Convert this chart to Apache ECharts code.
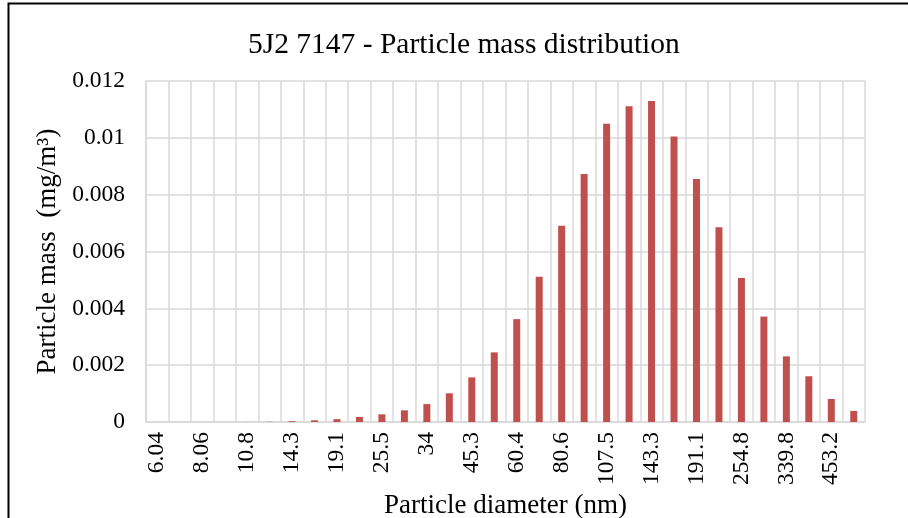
<!DOCTYPE html>
<html>
<head>
<meta charset="utf-8">
<title>Particle mass distribution</title>
<script src="https://cdn.jsdelivr.net/npm/echarts@6/dist/echarts.min.js"></script>
<style>
  html, body { margin: 0; padding: 0; background: #fff; }
  #chart { width: 908px; height: 518px; }
</style>
</head>
<body>
<div id="chart"></div>
<script>
// particle diameter bins (nm), only every other one is labelled
const diameters = ['6.04', '6.98', '8.06', '9.31', '10.8', '12.4', '14.3', '16.5',
  '19.1', '22.1', '25.5', '29.4', '34', '39.2', '45.3', '52.3',
  '60.4', '69.8', '80.6', '93.1', '107.5', '124.1', '143.3', '165.5',
  '191.1', '220.7', '254.8', '294.3', '339.8', '392.4', '453.2', '523.3'];

// particle mass (mg/m3)
const mass = [0, 0, 0, 0, 0.000002, 0.000008, 0.00003, 0.00006,
  0.0001, 0.00018, 0.00027, 0.00041, 0.00063, 0.00101, 0.00157, 0.00245,
  0.00362, 0.00511, 0.00691, 0.00873, 0.0105, 0.01111, 0.0113, 0.01005,
  0.00855, 0.00685, 0.00507, 0.00371, 0.00231, 0.00161, 0.00081, 0.00039];

const yTicks = [0, 0.002, 0.004, 0.006, 0.008, 0.01, 0.012];

const font = 'Liberation Serif';
const gridColor = '#d9d9d9';

const chart = echarts.init(document.getElementById('chart'));

chart.setOption({
  animation: false,
  backgroundColor: '#fff',
  textStyle: { fontFamily: font, color: '#000' },
  title: {
    text: '5J2 7147 - Particle mass distribution',
    left: 243,
    top: 25,
    textStyle: { fontFamily: font, fontSize: 29.5, fontWeight: 'normal', color: '#000' }
  },
  // outer frame of the chart area
  graphic: [{
    type: 'rect',
    shape: { x: 8.5, y: 3.5, width: 920, height: 540 },
    style: { fill: 'none', stroke: '#000', lineWidth: 2 },
    silent: true
  }],
  grid: { left: 146, right: 43, top: 81, bottom: 96, outerBoundsMode: 'none' },
  xAxis: {
    type: 'category',
    data: diameters,
    name: 'Particle diameter (nm)',
    nameLocation: 'middle',
    nameGap: 70,
    nameTextStyle: { fontFamily: font, fontSize: 27, color: '#000' },
    axisLine: { show: true, lineStyle: { color: gridColor, width: 1.5 } },
    axisTick: { show: false },
    axisLabel: {
      interval: 1,
      rotate: 90,
      margin: 10,
      fontFamily: font,
      fontSize: 23.5,
      color: '#000'
    },
    splitLine: { show: true, interval: 0, lineStyle: { color: gridColor, width: 1.5 } }
  },
  yAxis: {
    type: 'value',
    min: yTicks[0],
    max: yTicks[yTicks.length - 1],
    interval: 0.002,
    name: 'Particle mass  (mg/m³)',
    nameLocation: 'middle',
    nameGap: 80,
    nameTextStyle: { fontFamily: font, fontSize: 27, color: '#000' },
    axisLine: { show: true, lineStyle: { color: gridColor, width: 1.5 } },
    axisTick: { show: false },
    axisLabel: {
      margin: 21,
      fontFamily: font,
      fontSize: 23.5,
      color: '#000',
      formatter: v => String(+v.toFixed(3))
    },
    splitLine: { show: true, lineStyle: { color: gridColor, width: 1.5 } }
  },
  series: [{
    name: 'Particle mass',
    type: 'bar',
    data: mass,
    barWidth: 7,
    itemStyle: { color: '#c0504d' }
  }]
});
</script>
</body>
</html>
